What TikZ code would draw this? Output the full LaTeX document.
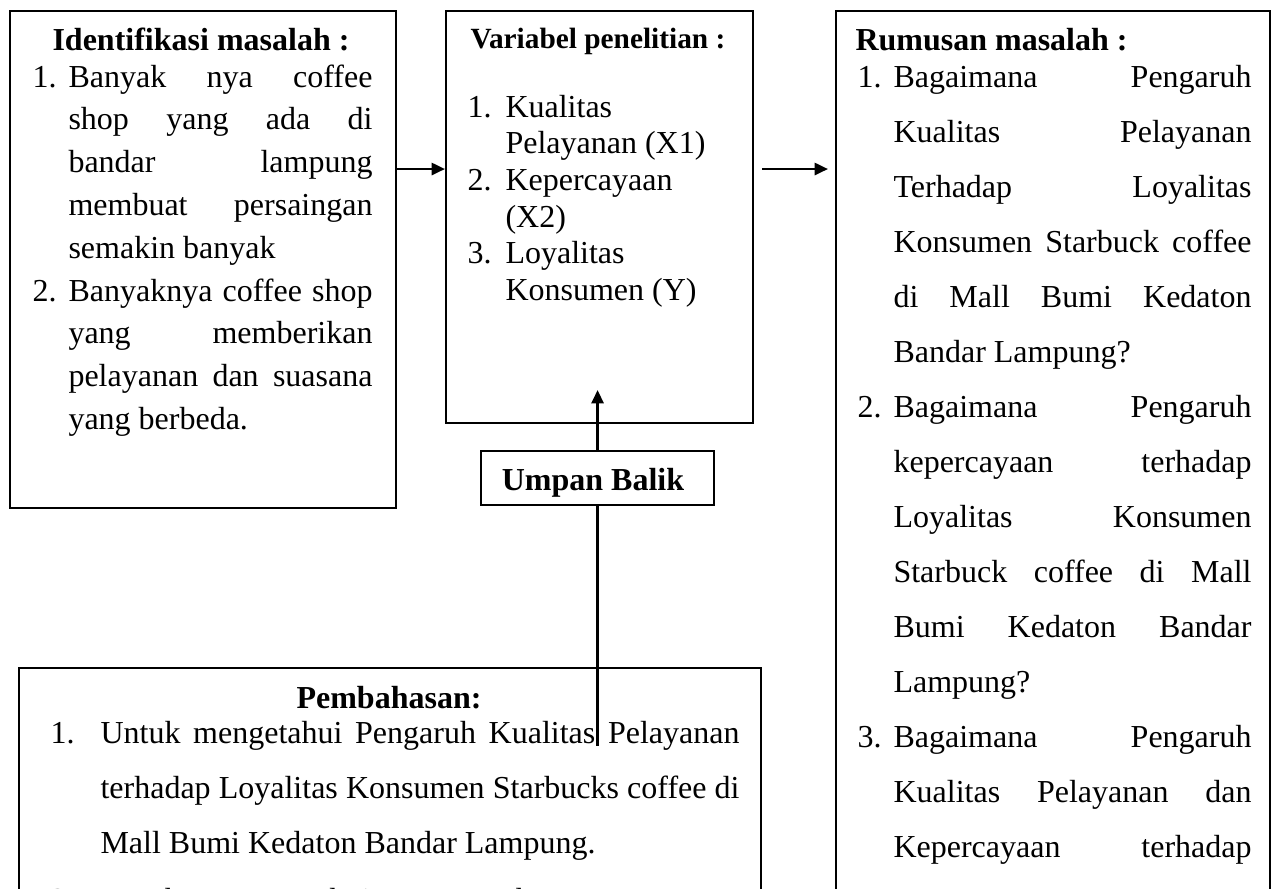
\documentclass[tikz,border=0pt]{standalone}
\usepackage{fontspec}
\setmainfont{Liberation Serif}
\usetikzlibrary{arrows.meta}
\newlength\px \setlength\px{0.375pt}
\newlength\numw \newlength\txtw
\newcommand\jl[1]{\hbox to \txtw{\spaceskip=.25em plus 1fil\relax #1}}
\newcommand\lline[1]{\hbox to \txtw{#1\hfil}}
\newcommand\numbox[1]{\hbox to \numw{#1\hfil}}
\newcommand\itemrow[2]{\hbox{\numbox{#1}#2}}
\tikzset{
  x=0.375pt, y=-0.375pt,
  box/.style={draw, line width=0.8pt, inner sep=0pt, anchor=north west},
  txt/.style={anchor=base west, inner sep=0pt, font=\fontsize{12pt}{14pt}\selectfont},
  head/.style={inner sep=0pt, font=\fontsize{12pt}{14pt}\selectfont\bfseries},
  arr/.style={line width=1pt, -{Triangle[length=5pt,width=4.5pt]}},
  ln/.style={line width=1pt}
}
\begin{document}
\begin{tikzpicture}
\path[use as bounding box] (0,0) rectangle (1271,888);
\clip (0,0) rectangle (1271,888);
% boxes
\node[box, minimum width=386\px, minimum height=497\px] (b1) at (9,10) {};
\node[box, minimum width=307\px, minimum height=412\px] (b2) at (445,10) {};
\node[box, minimum width=434\px, minimum height=900\px] (b3) at (835,10) {};
\node[box, minimum width=233\px, minimum height=54\px] (ub) at (480,450) {};
\node[box, minimum width=742\px, minimum height=300\px] (b4) at (18,667) {};
% headings
\node[head, anchor=base] (h1) at (201,50) {Identifikasi masalah :};
\node[head, anchor=base west, font=\fontsize{11pt}{13pt}\selectfont\bfseries] (h2) at (470,48) {Variabel penelitian :};
\node[head, anchor=base west] (h3) at (855,50) {Rumusan masalah :};
\node[head, anchor=base] (h4) at (389,708) {Pembahasan:};
\node[head, anchor=base] (uh) at (593,490) {Umpan Balik};
% box 1 text
\node[txt] (t1) at (32,87) {\vtop{\setlength\numw{36\px}\setlength\txtw{304\px}%
\baselineskip=42.8\px \lineskiplimit=-100pt
\itemrow{1.}{\jl{Banyak nya coffee}}
\itemrow{}{\jl{shop yang ada di}}
\itemrow{}{\jl{bandar lampung}}
\itemrow{}{\jl{membuat persaingan}}
\itemrow{}{\lline{semakin banyak}}
\itemrow{2.}{\jl{Banyaknya coffee shop}}
\itemrow{}{\jl{yang memberikan}}
\itemrow{}{\jl{pelayanan dan suasana}}
\itemrow{}{\lline{yang berbeda.}}}};
% box 2 text
\node[txt] (t2) at (467,117) {\vtop{\setlength\numw{38\px}\setlength\txtw{230\px}%
\baselineskip=36.7\px \lineskiplimit=-100pt
\itemrow{1.}{\lline{Kualitas}}
\itemrow{}{\lline{Pelayanan (X1)}}
\itemrow{2.}{\lline{Kepercayaan}}
\itemrow{}{\lline{(X2)}}
\itemrow{3.}{\lline{Loyalitas}}
\itemrow{}{\lline{Konsumen (Y)}}}};
% box 3 text
\node[txt] (t3) at (857,87) {\vtop{\setlength\numw{36\px}\setlength\txtw{358\px}%
\baselineskip=55\px \lineskiplimit=-100pt
\itemrow{1.}{\jl{Bagaimana Pengaruh}}
\itemrow{}{\jl{Kualitas Pelayanan}}
\itemrow{}{\jl{Terhadap Loyalitas}}
\itemrow{}{\jl{Konsumen Starbuck coffee}}
\itemrow{}{\jl{di Mall Bumi Kedaton}}
\itemrow{}{\lline{Bandar Lampung?}}
\itemrow{2.}{\jl{Bagaimana Pengaruh}}
\itemrow{}{\jl{kepercayaan terhadap}}
\itemrow{}{\jl{Loyalitas Konsumen}}
\itemrow{}{\jl{Starbuck coffee di Mall}}
\itemrow{}{\jl{Bumi Kedaton Bandar}}
\itemrow{}{\lline{Lampung?}}
\itemrow{3.}{\jl{Bagaimana Pengaruh}}
\itemrow{}{\jl{Kualitas Pelayanan dan}}
\itemrow{}{\jl{Kepercayaan terhadap}}}};
% box 4 text
\node[txt] (t4) at (50,743) {\vtop{\setlength\numw{50\px}\setlength\txtw{639\px}%
\baselineskip=55\px \lineskiplimit=-100pt
\itemrow{1.}{\jl{Untuk mengetahui Pengaruh Kualitas Pelayanan}}
\itemrow{}{\jl{terhadap Loyalitas Konsumen Starbucks coffee di}}
\itemrow{}{\lline{Mall Bumi Kedaton Bandar Lampung.}}
\vskip 2\px
\itemrow{2.}{\jl{Untuk mengetahui Pengaruh Kepercayaan}}}};
% connectors
\coordinate (ay) at (0,169);
\draw[arr] (b1.east |- ay) -- (b2.west |- ay);
\draw[arr, shorten <=8\px, shorten >=7\px] (b2.east |- ay) -- (b3.west |- ay);
\draw[arr] (ub.north) -- ++(0,-60);
\draw[ln] (ub.south) -- ++(0,240);
\end{tikzpicture}
\end{document}
